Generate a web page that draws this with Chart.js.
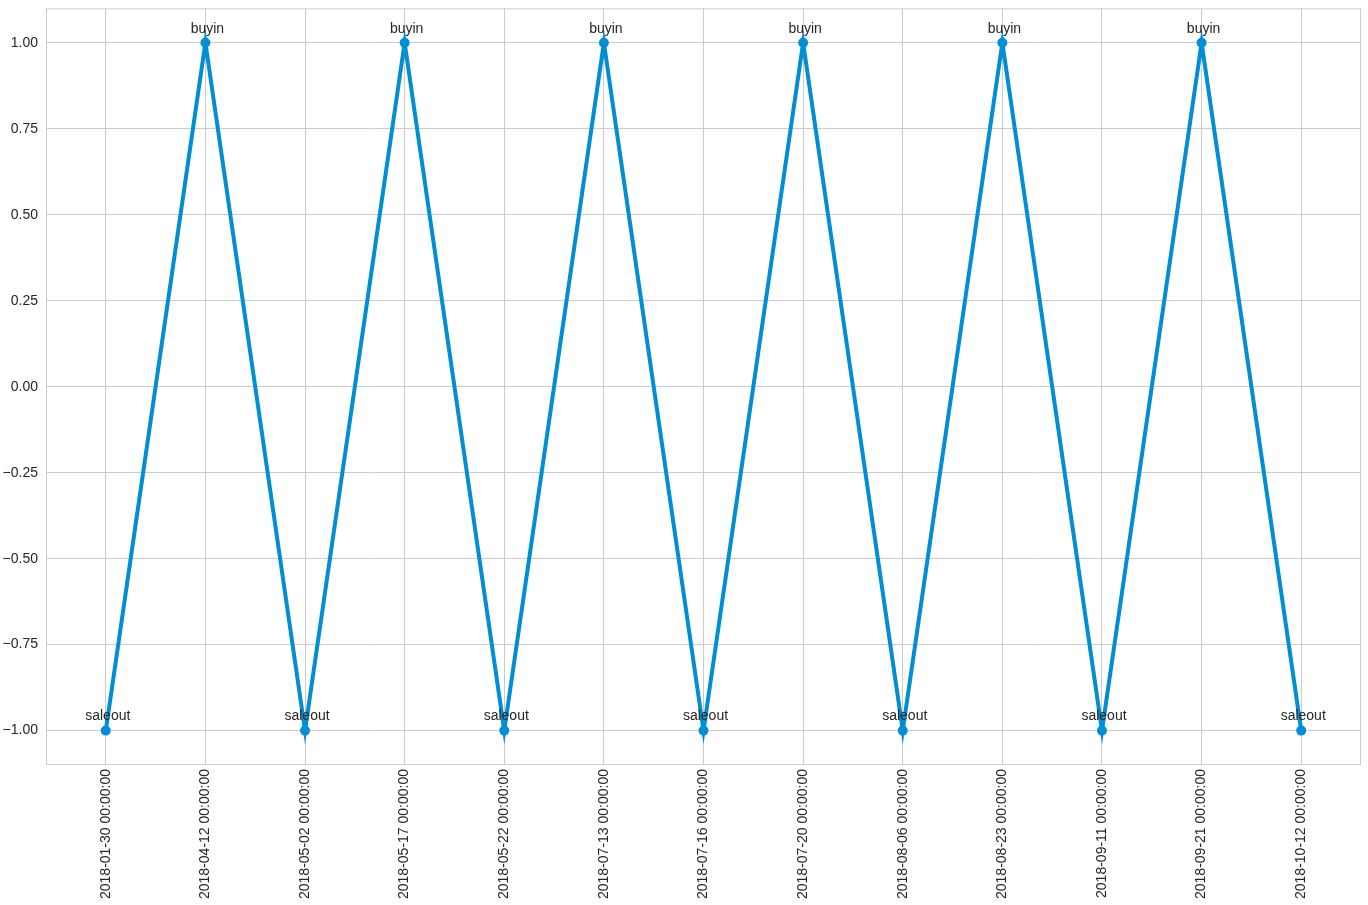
<!DOCTYPE html>
<html>
<head>
<meta charset="utf-8">
<script src="https://cdn.jsdelivr.net/npm/chart.js@4"></script>
<style>
  body { margin: 0; background: #fff; overflow: hidden; }
  #wrap { position: relative; width: 1368px; height: 913px; margin-top: -8px; }
</style>
</head>
<body>
<div id="wrap"><canvas id="signalChart"></canvas></div>
<script>
// dates of each trade signal
const dates = ['2018-01-30 00:00:00', '2018-04-12 00:00:00', '2018-05-02 00:00:00', '2018-05-17 00:00:00',
    '2018-05-22 00:00:00', '2018-07-13 00:00:00', '2018-07-16 00:00:00', '2018-07-20 00:00:00',
    '2018-08-06 00:00:00', '2018-08-23 00:00:00', '2018-09-11 00:00:00', '2018-09-21 00:00:00',
    '2018-10-12 00:00:00'];
const signals = [-1, 1, -1, 1, -1, 1, -1, 1, -1, 1, -1, 1, -1];
const signalNames = ['saleout', 'buyin', 'saleout', 'buyin', 'saleout', 'buyin', 'saleout', 'buyin',
    'saleout', 'buyin', 'saleout', 'buyin', 'saleout'];
const yTicks = [-1.0, -0.75, -0.5, -0.25, 0.0, 0.25, 0.5, 0.75, 1.0];

const FONT = 'Liberation Sans, Arial, sans-serif';

// text labels above each point
const annotatePlugin = {
    id: 'annotate',
    afterDatasetsDraw(chart) {
        const ctx = chart.ctx;
        const xs = chart.scales.x, ys = chart.scales.y;
        ctx.save();
        ctx.font = '14px ' + FONT;
        ctx.fillStyle = '#262626';
        ctx.textAlign = 'center';
        ctx.textBaseline = 'bottom';
        signals.forEach((v, i) => {
            ctx.fillText(signalNames[i], xs.getPixelForValue(i) + 2, ys.getPixelForValue(v) - 7);
        });
        ctx.restore();
    }
};

const frame = {
    id: 'frame',
    afterDraw(chart) {
        const a = chart.chartArea, ctx = chart.ctx;
        ctx.save();
        ctx.strokeStyle = '#cbcbcb';
        ctx.lineWidth = 1;
        ctx.strokeRect(a.left + 0.5, a.top + 0.5, a.width - 1, a.height - 1);
        ctx.restore();
    }
};

new Chart(document.getElementById('signalChart'), {
    type: 'line',
    data: {
        datasets: [{
            data: signals.map((v, i) => ({ x: i, y: v })),
            borderColor: '#008fd5',
            backgroundColor: '#008fd5',
            borderWidth: 4,
            pointRadius: 3,
            pointHoverRadius: 3,
            tension: 0
        }]
    },
    options: {
        responsive: true,
        maintainAspectRatio: false,
        animation: false,
        layout: { padding: { left: 0, right: 6, top: 0, bottom: 4 } },
        plugins: { legend: { display: false }, tooltip: { enabled: false } },
        scales: {
            x: {
                type: 'linear',
                min: -0.6,
                max: 12.6,
                afterBuildTicks: axis => { axis.ticks = dates.map((d, i) => ({ value: i })); },
                afterFit: axis => { axis.height = 136; },
                ticks: {
                    autoSkip: false,
                    maxRotation: 90,
                    minRotation: 90,
                    padding: 4,
                    color: '#262626',
                    font: { size: 14, family: FONT },
                    callback: v => dates[v]
                },
                grid: { color: '#cbcbcb', drawTicks: false },
                border: { display: false }
            },
            y: {
                min: -1.1,
                max: 1.1,
                afterBuildTicks: axis => { axis.ticks = yTicks.map(v => ({ value: v })); },
                afterFit: axis => { axis.width = 46; },
                ticks: {
                    color: '#262626',
                    padding: 8,
                    font: { size: 14, family: FONT },
                    callback: v => (v < 0 ? '\u2212' : '') + Math.abs(v).toFixed(2)
                },
                grid: { color: '#cbcbcb', drawTicks: false },
                border: { display: false }
            }
        }
    },
    plugins: [annotatePlugin, frame]
});
</script>
</body>
</html>
